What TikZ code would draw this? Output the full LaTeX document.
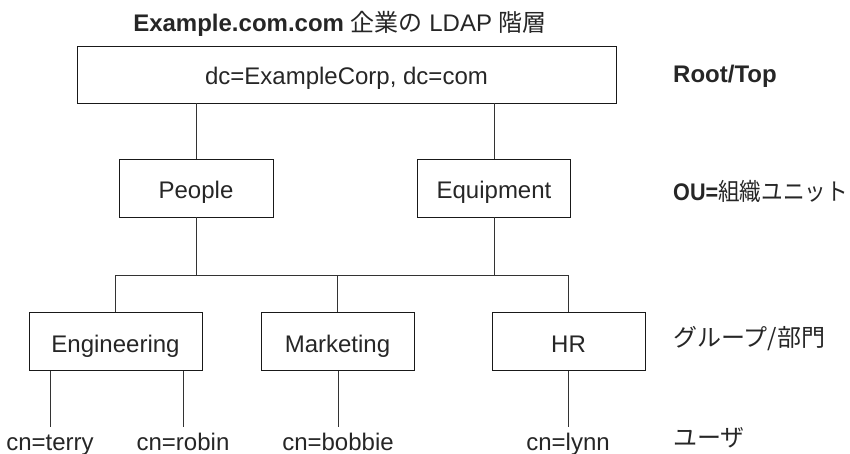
\documentclass[tikz,border=0pt]{standalone}
\usepackage{fontspec}
\setmainfont{Liberation Sans}
\newfontfamily\jafont{Noto Sans CJK JP}

\tikzset{
  label/.style={text=black!85, font=\fontsize{24}{28}\selectfont},
  box/.style={label, draw=black!90, line width=0.8pt, rectangle, inner sep=0pt,
    minimum height=58pt, text height=21pt, text depth=0pt},
  user/.style={label, inner sep=0pt, text height=23pt, text depth=5pt, anchor=base},
  link/.style={draw=black!80, line width=0.8pt},
  level/.style={label, anchor=base west, inner sep=0pt}
}

\begin{document}
\begin{tikzpicture}[x=1pt, y=-1pt]
\useasboundingbox (0,0) rectangle (850,454);

\node[label, anchor=base] (title) at (340,32) {\textbf{Example.com.com} {\jafont 企業の} LDAP {\jafont 階層}};

\def\y{74.5}
\node[box, minimum width=539pt, minimum height=57pt] (root) at (346.5,\y) {dc=ExampleCorp, dc=com};
\node[level] (lvlroot) at (673,83) {\textbf{Root/Top}};

\def\y{188}
\node[box, minimum width=154pt] (people) at (196,\y) {People};
\node[box, minimum width=153pt] (equip) at (494,\y) {Equipment};
\node[level] (lvlou) at (673,201) {\scalebox{0.9}[1]{\textbf{OU=}{\jafont 組織ユニット}}};

\def\y{341.5}
\node[box, minimum width=173pt] (eng) at (115.5,\y) {Engineering};
\node[box, minimum width=153pt] (mkt) at (337.5,\y) {Marketing};
\node[box, minimum width=153pt] (hr) at (568.5,\y) {HR};
\node[level] (lvlgrp) at (673,346) {\jafont グループ/部門};

\def\y{450}
\foreach \x/\n in {50/terry, 183/robin, 338/bobbie, 568/lynn} {
\node[user] (\n) at (\x,\y) {cn=\n};
}
\node[level] (lvlusr) at (673,446) {\jafont ユーザ};

% root to OUs
\draw[link] (root.south -| people) -- (people.north);
\draw[link] (root.south -| equip) -- (equip.north);

% OUs to groups
\coordinate (bus) at (0,275);
\draw[link] (people.south) -- (people |- bus);
\draw[link] (equip.south) -- (equip |- bus);
\draw[link] (eng.north) -- (eng |- bus) -| (hr.north);
\draw[link] (mkt.north) -- (mkt |- bus);

% groups to users
\foreach \n/\g in {terry/eng, robin/eng, bobbie/mkt, lynn/hr} {
\draw[link] (\n.north |- \g.south) -- (\n.north);
}
\end{tikzpicture}
\end{document}
